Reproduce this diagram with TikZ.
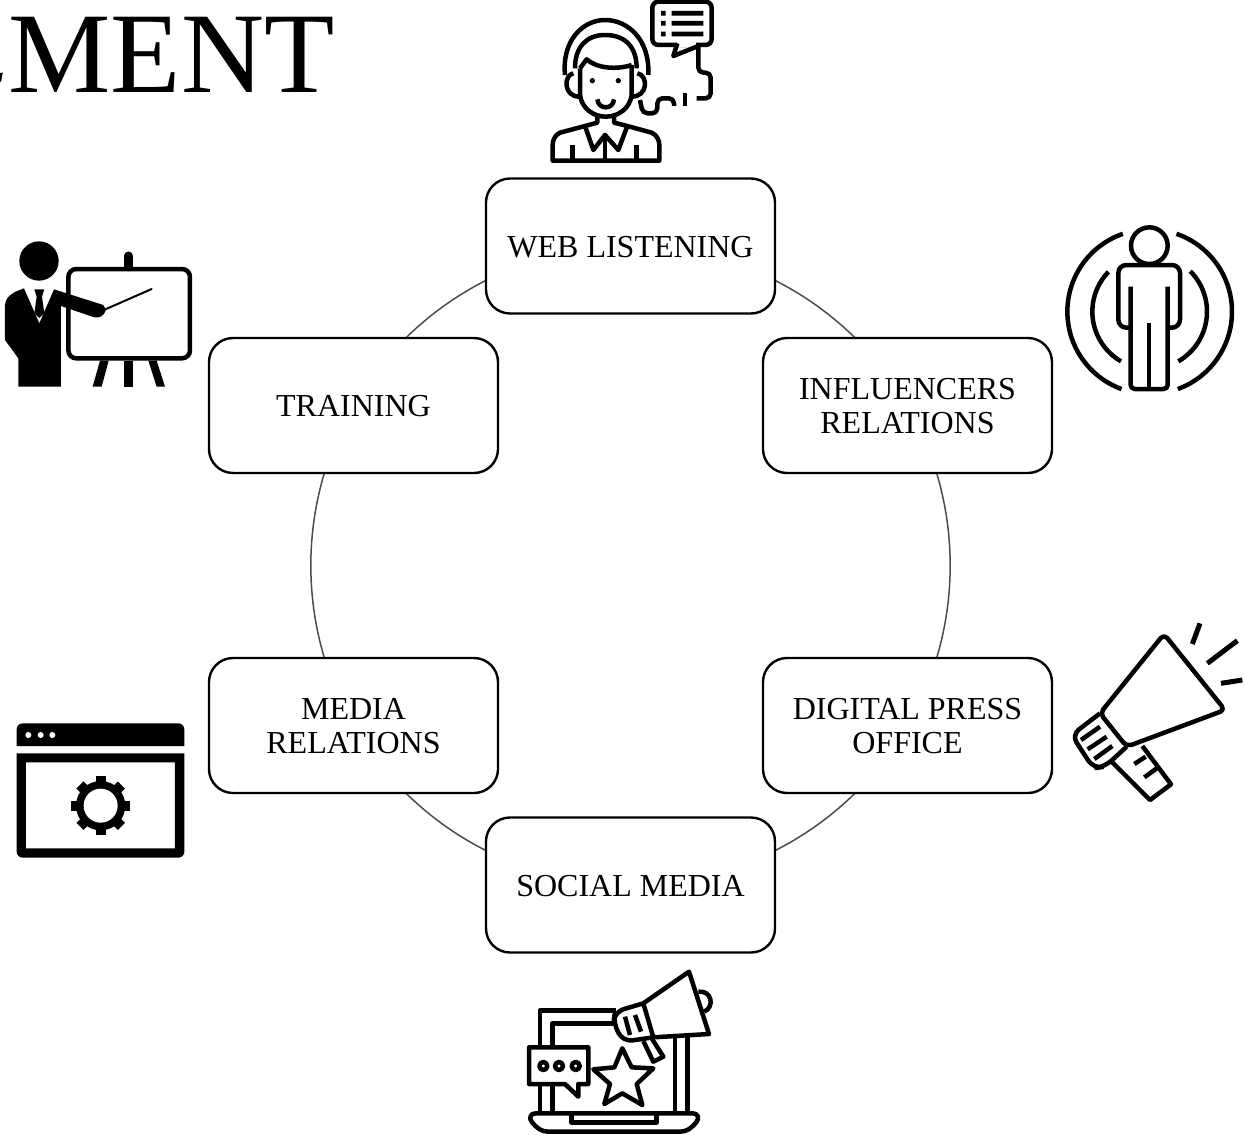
\documentclass[tikz,border=0pt]{standalone}
\usepackage{fontspec}
\setmainfont{Liberation Serif}
\usetikzlibrary{backgrounds}
\newcommand\tup{\rule{0pt}{23.2pt}}
\tikzset{
  boxnode/.style={draw=black,line width=2.4pt,fill=white,rounded corners=24pt,minimum width=289pt,minimum height=135pt,inner sep=0pt,align=center,font=\fontsize{32}{34}\selectfont},
  ringlink/.style={draw=black!70,line width=1.5pt,bend left=30,looseness=0.912},
  icn/.style={line width=4.5pt,line join=round,draw=black},
  thk/.style={line width=5pt,line join=round,draw=black}
}
\begin{document}
\begin{tikzpicture}[x=1pt,y=-1pt]
\useasboundingbox (0,0) rectangle (1245,1135);
% title
\node[anchor=base east,inner sep=0pt,font=\fontsize{115}{115}\selectfont] (title) at (334.5,92) {MENT};
\fill[black] (0,73) -- (2.8,72.5) -- (1,82) -- (0,81) -- cycle;
% boxes
\node[boxnode] (web) at (630.5,246) {\tup WEB LISTENING};
\node[boxnode] (infl) at (907.5,405.5) {\tup INFLUENCERS\\RELATIONS};
\node[boxnode] (press) at (907.5,725.5) {\tup DIGITAL PRESS\\OFFICE};
\node[boxnode] (social) at (630.5,885) {\tup SOCIAL MEDIA};
\node[boxnode] (media) at (353.5,725.5) {\tup MEDIA\\RELATIONS};
\node[boxnode] (train) at (353.5,405.5) {\tup TRAINING};
\begin{scope}[on background layer]
\draw[ringlink] (web.center) to (infl.center);
\draw[ringlink] (infl.center) to (press.center);
\draw[ringlink] (press.center) to (social.center);
\draw[ringlink] (social.center) to (media.center);
\draw[ringlink] (media.center) to (train.center);
\draw[ringlink] (train.center) to (web.center);
\end{scope}
% headset icon
\begin{scope}[shift={(520,0)},scale=0.33333]
\draw[icn,rounded corners=6pt] (397,5) rectangle (575,135);
\fill[white] (472,125) rectangle (528,142);
\draw[icn] (472,130) -- (460,168) -- (530,140);
\fill (423,33) rectangle (437,47) (423,63) rectangle (437,77) (423,95) rectangle (437,109);
\fill (455,33) rectangle (550,47) (455,63) rectangle (550,77) (455,95) rectangle (550,109);
\draw[icn,rounded corners=5pt] (535,138) -- (535,218) -- (572,218) -- (572,295) -- (530,295);
\draw[icn] (495,278) -- (495,318);
\draw[icn,rounded corners=5pt] (462,318) -- (462,295) -- (412,295) -- (412,340) -- (368,340) -- (360,300);
\draw[icn] (135,225) .. controls (125,120) and (190,60) .. (255,60) .. controls (325,60) and (390,120) .. (385,225);
\draw[icn] (165,205) .. controls (165,140) and (200,105) .. (255,105) .. controls (315,105) and (350,140) .. (350,205);
\draw[icn] (160,220) .. controls (130,225) and (130,290) .. (178,290);
\draw[icn] (352,220) .. controls (385,225) and (385,290) .. (335,290);
\draw[icn] (180,205) -- (180,285) .. controls (185,325) and (220,350) .. (257,350) .. controls (295,350) and (330,325) .. (335,285) -- (335,195);
\draw[icn] (180,205) -- (200,178) .. controls (230,205) and (290,210) .. (335,195);
\fill (217,242) circle (8) (295,242) circle (8);
\draw[icn] (232,298) .. controls (235,330) and (280,330) .. (282,298);
\draw[icn] (232,345) -- (232,368) -- (195,378) -- (120,398) .. controls (105,405) and (98,420) .. (98,435) -- (98,482) -- (418,482) -- (418,435) .. controls (418,420) and (410,405) .. (395,398) -- (322,378) -- (282,368) -- (282,345);
\draw[icn] (195,378) -- (220,450) -- (255,405) -- (295,450) -- (322,378);
\draw[icn] (255,405) -- (255,482);
\draw[icn] (158,435) -- (158,482) (350,435) -- (350,482);
\end{scope}
% trainer icon
\begin{scope}[shift={(0,230)},scale=0.33333]
\fill (117,93) circle (59);
\draw[line width=4.5pt,rounded corners=8pt] (205,117) rectangle (570,385);
\draw[line width=9pt,line cap=round] (385,78) -- (385,110);
\fill (300,392) -- (326,392) -- (305,470) -- (278,470) -- cycle;
\fill (372,392) rectangle (400,470);
\fill (445,392) -- (470,392) -- (495,470) -- (470,470) -- cycle;
\fill (15,225) .. controls (18,195) and (45,185) .. (72,175) -- (118,280) -- (162,178) -- (310,225) -- (318,240) .. controls (312,258) and (298,265) .. (283,262) -- (183,228) -- (183,470) -- (55,470) -- (55,385) -- (15,330) -- cycle;
\fill (103,178) -- (133,178) -- (126,200) -- (133,250) -- (118,264) -- (103,250) -- (110,200) -- cycle;
\draw[line width=2pt,line cap=round] (316,238) -- (455,177);
\end{scope}
% person icon
\begin{scope}[shift={(1050,215)},scale=0.33333]
\draw[icn] (298,92) circle (55);
\draw[icn,rounded corners=8pt] (242,338) -- (205,338) -- (205,150) -- (390,150) -- (390,338) -- (353,338);
\draw[icn,rounded corners=4pt] (242,215) -- (242,522) -- (353,522) -- (353,215);
\draw[icn] (297,325) -- (297,522);
\draw[icn] plot[domain=110:251,samples=40,smooth] ({299+247*cos(\x)},{290+247*sin(\x)});
\draw[icn] plot[domain=-71:70,samples=40,smooth] ({299+247*cos(\x)},{290+247*sin(\x)});
\draw[icn] plot[domain=120:224,samples=30,smooth] ({299+172*cos(\x)},{290+172*sin(\x)});
\draw[icn] plot[domain=-45:60,samples=30,smooth] ({299+172*cos(\x)},{290+172*sin(\x)});
\end{scope}
% megaphone icon
\begin{scope}[shift={(1055,620)},scale=0.33333]
\draw[icn,rounded corners=5pt] (135,280) -- (327,42) -- (510,270) -- (215,380) -- cycle;
\draw[icn,rounded corners=9pt] (135,280) -- (50,345) -- (115,445) -- (150,440) -- (215,380);
\draw[icn] (78,360) -- (135,320) (98,388) -- (155,350) (118,417) -- (172,378);
\draw[icn] (170,425) -- (285,540) -- (348,493) -- (262,378);
\draw[icn] (238,432) -- (272,410) (268,472) -- (305,445);
\draw[thk] (412,72) -- (435,10) (457,130) -- (547,62) (498,190) -- (562,180);
\end{scope}
% window icon
\begin{scope}[shift={(0,710)},scale=0.33333]
\fill (50,108) [rounded corners=6pt] -- (50,40) -- (553,40) [sharp corners] -- (553,108) -- cycle;
\fill[white] (85,75) circle (9) (122,75) circle (9) (157,75) circle (9);
\fill[even odd rule] (50,130) [rounded corners=6pt] -- (50,443) -- (553,443) [sharp corners] -- (553,130) -- cycle (78,157) rectangle (525,415);
\foreach \a in {0,45,...,315}{
  \fill[rotate around={\a:(302,287)}] (287,199) rectangle (317,240);
}
\fill (302,287) circle (74);
\fill[white] (302,287) circle (51);
\end{scope}
% laptop icon
\begin{scope}[shift={(515,960)},scale=0.33333]
\draw[icn] (75,460) -- (75,372) (75,262) -- (75,152) -- (302,152);
\draw[icn] (112,460) -- (112,372) (112,262) -- (112,190) -- (295,190);
\draw[icn] (480,228) -- (480,460) (518,228) -- (518,460);
\draw[icn] (62,460) -- (533,460) .. controls (550,460) and (553,475) .. (545,485) .. controls (530,505) and (515,515) .. (495,515) -- (100,515) .. controls (80,515) and (65,505) .. (50,485) .. controls (42,475) and (45,460) .. (62,460) -- cycle;
\draw[icn] (170,462) -- (170,488) -- (425,488) -- (425,462);
\draw[icn] (42,262) -- (220,262) -- (220,372) -- (190,372) -- (190,410) -- (150,372) -- (42,372) -- cycle;
\draw[icn] (85,318) circle (12) (132,318) circle (12) (182,318) circle (12);
\draw[icn] (322,265) -- (350,322) -- (415,325) -- (365,372) -- (382,435) -- (322,400) -- (268,432) -- (285,372) -- (235,328) -- (298,322) -- cycle;
\draw[icn] (385,130) -- (522,35) -- (582,222) -- (415,232) -- cycle;
\draw[icn] (550,95) .. controls (590,90) and (600,140) .. (568,155);
\draw[icn,rounded corners=9pt] (385,130) -- (300,155) -- (295,190) -- (325,245) -- (415,232);
\draw[icn] (330,170) -- (345,225) (360,165) -- (378,215);
\draw[icn] (385,243) -- (415,305) -- (445,290) -- (410,235);
\end{scope}
\end{tikzpicture}
\end{document}
